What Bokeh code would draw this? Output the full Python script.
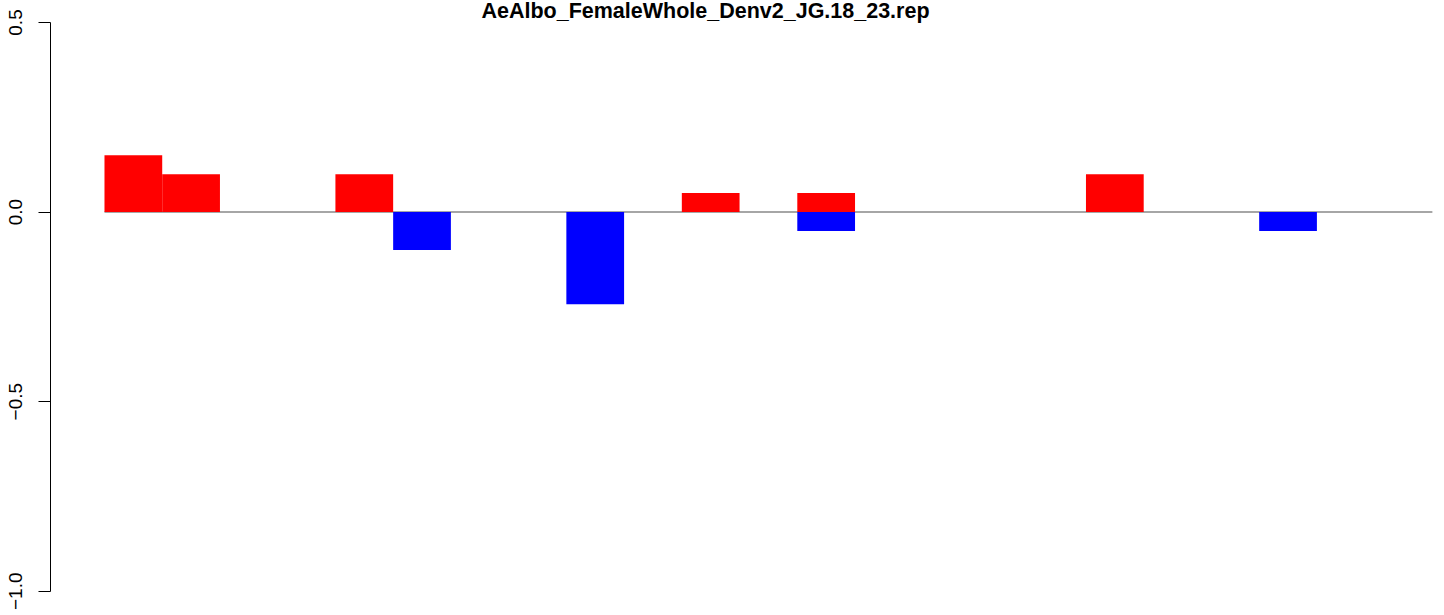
from bokeh.plotting import figure
from bokeh.models import Range1d, Label
from bokeh.embed import file_html
from bokeh.resources import INLINE

# ---- data ----
title_text = "AeAlbo_FemaleWhole_Denv2_JG.18_23.rep"
positions = list(range(23))
up_values = [0.15, 0.10, 0, 0, 0.10, 0, 0, 0, 0, 0, 0.05, 0, 0.05, 0, 0, 0, 0, 0.10, 0, 0, 0, 0, 0]
down_values = [0, 0, 0, 0, 0, -0.10, 0, 0, -0.243, 0, 0, 0, -0.05, 0, 0, 0, 0, 0, 0, 0, -0.05, 0, 0]
y_ticks = [-1.0, -0.5, 0.0, 0.5]
y_tick_labels = ["\u22121.0", "\u22120.5", "0.0", "0.5"]

FONT = "Liberation Sans"

p = figure(width=1444, height=615, output_backend="svg", toolbar_location=None,
           x_range=Range1d(-0.935, 23.21), y_range=Range1d(-1.064, 0.558),
           min_border_left=50, min_border_right=0, min_border_top=0, min_border_bottom=0)
p.outline_line_color = None
p.xgrid.visible = False
p.ygrid.visible = False
p.xaxis.visible = False
p.background_fill_color = "white"
p.border_fill_color = "white"

ax = p.yaxis[0]
ax.ticker = y_ticks
ax.major_label_overrides = {t: l for t, l in zip(y_ticks, y_tick_labels)}
ax.bounds = (min(y_ticks), max(y_ticks))
ax.major_tick_out = 12
ax.major_tick_in = 0
ax.minor_tick_out = 0
ax.minor_tick_in = 0
ax.axis_line_color = "black"
ax.axis_line_width = 1
ax.major_tick_line_color = "black"
ax.major_label_orientation = "vertical"
ax.major_label_text_font = FONT
ax.major_label_text_font_size = "19px"
ax.major_label_text_color = "black"
ax.major_label_standoff = 16

# baseline
p.segment(x0=[positions[0]], y0=[0], x1=[positions[-1] + 1], y1=[0],
          line_color="#888888", line_width=1.5)

# bars
p.vbar(x=[x + 0.5 for x in positions], width=1.0, bottom=0, top=up_values,
       fill_color="#FF0000", line_color=None)
p.vbar(x=[x + 0.5 for x in positions], width=1.0, bottom=0, top=down_values,
       fill_color="#0000FF", line_color=None)

# title
p.add_layout(Label(x=10.41, y=0.531, text=title_text, text_align="center",
                   text_baseline="alphabetic", text_font=FONT, text_font_style="bold",
                   text_font_size="21.5px", text_color="black"))

open("out.html", "w").write(file_html(p, INLINE))
